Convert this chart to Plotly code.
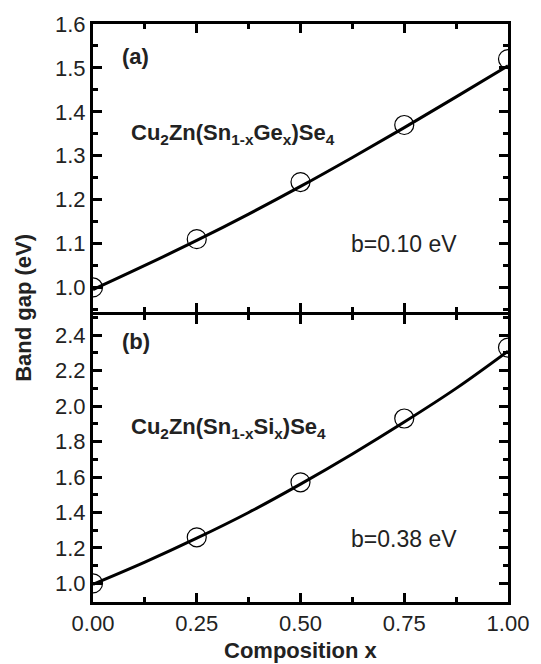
import plotly.graph_objects as go
from plotly.subplots import make_subplots

# ---- data ----
x_pts = [0.0, 0.25, 0.5, 0.75, 1.0]
ge_pts = [1.00, 1.11, 1.24, 1.37, 1.52]
si_pts = [1.00, 1.26, 1.57, 1.93, 2.33]

x_fit = [0.0, 0.125, 0.25, 0.375, 0.5, 0.625, 0.75, 0.875, 1.0]
ge_fit = [0.995, 1.05, 1.107, 1.167, 1.230, 1.296, 1.364, 1.434, 1.505]
si_fit = [0.995, 1.12, 1.255, 1.40, 1.56, 1.73, 1.91, 2.10, 2.31]

x_ticks = [0.0, 0.25, 0.5, 0.75, 1.0]
x_ticklabels = ["0.00", "0.25", "0.50", "0.75", "1.00"]

FONT = "Liberation Sans, Arial, sans-serif"
TXT = "#222"

W, H = 541, 664
L, R, T, B = 93, 25.5, 18.5, 61.5
pw = W - L - R
ph = H - T - B
top_bottom_px = 309.5   # bottom edge of upper panel (page px)
bot_top_px = 312.5      # top edge of lower panel (page px)

def py(px):
    return (H - B - px) / ph

def px_x(px):
    return (px - L) / pw

fig = make_subplots(rows=2, cols=1, shared_xaxes=False, vertical_spacing=0)

for row, fy, pts in [(1, ge_fit, ge_pts), (2, si_fit, si_pts)]:
    fig.add_trace(go.Scatter(x=x_fit, y=fy, mode="lines",
                             line=dict(color="black", width=3, shape="spline"),
                             showlegend=False), row=row, col=1)
    fig.add_trace(go.Scatter(x=x_pts, y=pts, mode="markers",
                             marker=dict(symbol="circle-open", size=19,
                                         color="black", line=dict(width=1.2)),
                             showlegend=False), row=row, col=1)

axis_common = dict(showline=True, linewidth=3, linecolor="black", mirror="allticks",
                   ticks="inside", ticklen=9, tickwidth=2.5, tickcolor="black",
                   showgrid=False, zeroline=False,
                   tickfont=dict(family=FONT, size=22, color=TXT))

fig.update_xaxes(**axis_common, range=[0, 1], tickvals=x_ticks, ticktext=x_ticklabels,
                 minor=dict(ticks="inside", ticklen=5, tickwidth=2.5, tickcolor="black",
                            dtick=0.125, tick0=0, showgrid=False))
fig.update_xaxes(showticklabels=False, row=1, col=1)

fig.update_yaxes(**axis_common)
fig.update_yaxes(range=[0.944, 1.6], dtick=0.1, tick0=1.0, tickformat=".1f",
                 minor=dict(ticks="inside", ticklen=5, tickwidth=2.5, tickcolor="black",
                            dtick=0.05, tick0=1.0, showgrid=False), row=1, col=1)
fig.update_yaxes(range=[0.895, 2.514], dtick=0.2, tick0=1.0, tickformat=".1f",
                 minor=dict(ticks="inside", ticklen=5, tickwidth=2.5, tickcolor="black",
                            dtick=0.1, tick0=1.0, showgrid=False), row=2, col=1)

fig.update_layout(
    yaxis=dict(domain=[py(top_bottom_px), 1.0]),
    yaxis2=dict(domain=[0.0, py(bot_top_px)]),
)

def ann_text(text, x, y, xref, yref, size=22, xanchor="left", **kw):
    return dict(text=text, x=x, y=y, xref=xref, yref=yref, xanchor=xanchor,
                yanchor="middle", showarrow=False,
                font=dict(family=FONT, size=size, color=TXT), **kw)

ann = [
    ann_text("<b>(a)</b>", 0.064, 1.527, "x", "y"),
    ann_text("<b>Cu<sub>2</sub>Zn(Sn<sub>1-x</sub>Ge<sub>x</sub>)Se<sub>4</sub></b>",
             0.086, 1.35, "x", "y"),
    ann_text("b=0.10 eV", 0.749, 1.10, "x", "y", size=23, xanchor="center"),
    ann_text("<b>(b)</b>", 0.064, 2.365, "x2", "y2"),
    ann_text("<b>Cu<sub>2</sub>Zn(Sn<sub>1-x</sub>Si<sub>x</sub>)Se<sub>4</sub></b>",
             0.086, 1.875, "x2", "y2"),
    ann_text("b=0.38 eV", 0.749, 1.25, "x2", "y2", size=23, xanchor="center"),
    ann_text("<b>Band gap (eV)</b>", px_x(22), py(305), "paper", "paper",
             size=22, xanchor="center", textangle=-90),
    ann_text("<b>Composition x</b>", 0.5, py(652), "paper", "paper",
             size=22, xanchor="center"),
]

fig.update_layout(
    width=W, height=H,
    margin=dict(l=L, r=R, t=T, b=B),
    paper_bgcolor="white", plot_bgcolor="white",
    annotations=ann,
    showlegend=False,
)

fig.write_html("out.html")
